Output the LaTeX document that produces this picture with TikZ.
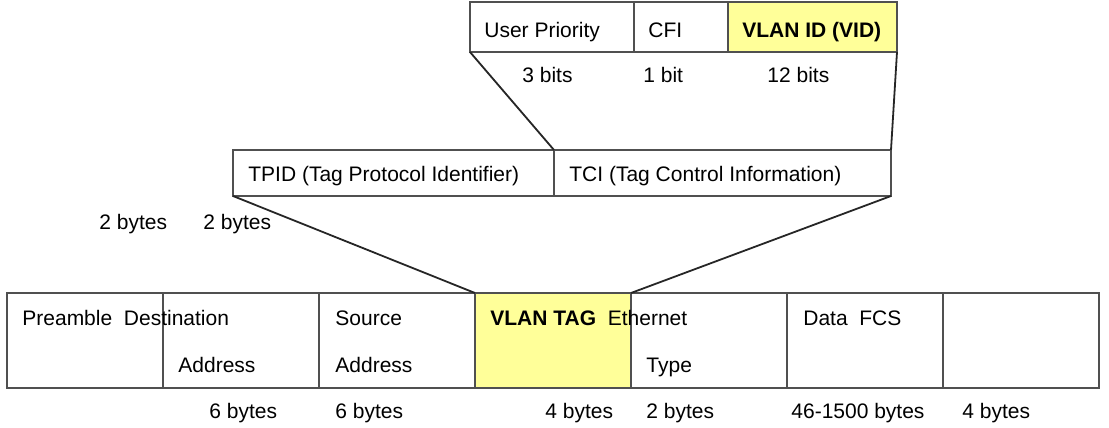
\documentclass[tikz,border=0pt]{standalone}
\usepackage{fontspec}
\setmainfont{Liberation Sans}
\usetikzlibrary{positioning}
\definecolor{tagYellow}{HTML}{FFFF99}
\definecolor{boxLine}{HTML}{505050}
\tikzset{
  field/.style={draw=boxLine, line width=0.6pt, inner sep=0pt, outer sep=0pt, anchor=north west},
  lbl/.style={inner sep=0pt, anchor=base west, font=\fontsize{10.5}{12}\selectfont},
  link/.style={draw=black!85, line width=0.9pt}
}

\begin{document}
\begin{tikzpicture}[x=0.5pt, y=-0.5pt]
  \useasboundingbox (0,0) rectangle (1109,428);

  % tag control information bits
  \node[field, minimum width=82pt, minimum height=25pt] (prio) at (470,2) {};
  \node[field, minimum width=47pt, minimum height=25pt, right=0pt of prio] (cfi) {};
  \node[field, fill=tagYellow, minimum width=84.5pt, minimum height=25pt, right=0pt of cfi] (vid) {};
  \node[lbl] (prioTxt) at (484,37) {User Priority};
  \node[lbl] (cfiTxt) at (648,37) {CFI};
  \node[lbl] (vidTxt) at (742,37) {\textbf{VLAN ID (VID)}};
  \node[lbl] (prioBits) at (522,83) {3 bits};
  \node[lbl] (cfiBits) at (643,83) {1 bit};
  \node[lbl] (vidBits) at (767,83) {12 bits};

  % the 4-byte tag
  \node[field, minimum width=160.5pt, minimum height=23pt] (tpid) at (233,150) {};
  \node[field, minimum width=168.5pt, minimum height=23pt, right=0pt of tpid] (tci) {};
  \node[lbl] (tpidTxt) at (248,181) {TPID (Tag Protocol Identifier)};
  \node[lbl] (tciTxt) at (569,181) {TCI (Tag Control Information)};
  \node[lbl] (tpidBytes) at (99,229) {2 bytes};
  \node[lbl] (tciBytes) at (203,229) {2 bytes};

  % ethernet frame
  \node[field, minimum width=78pt, minimum height=47.5pt] (preamble) at (7,293) {};
  \node[field, minimum width=78pt, minimum height=47.5pt, right=0pt of preamble] (dstaddr) {};
  \node[field, minimum width=78pt, minimum height=47.5pt, right=0pt of dstaddr] (srcaddr) {};
  \node[field, fill=tagYellow, minimum width=78pt, minimum height=47.5pt, right=0pt of srcaddr] (vlantag) {};
  \node[field, minimum width=78pt, minimum height=47.5pt, right=0pt of vlantag] (ethtype) {};
  \node[field, minimum width=78pt, minimum height=47.5pt, right=0pt of ethtype] (data) {};
  \node[field, minimum width=78pt, minimum height=47.5pt, right=0pt of data] (fcs) {};

  \node[lbl] (preTxt) at (22,325) {Preamble\ \ Destination};
  \node[lbl] (dstTxt) at (178,372) {Address};
  \node[lbl] (srcTxt) at (335,325) {Source};
  \node[lbl] (srcTxtB) at (335,372) {Address};
  \node[lbl] (tagTxt) at (490,325) {\textbf{VLAN TAG}\ \ Ethernet};
  \node[lbl] (typeTxt) at (646,372) {Type};
  \node[lbl] (dataTxt) at (803,325) {Data\ \ FCS};

  \node[lbl] (dstBytes) at (209,418) {6 bytes};
  \node[lbl] (srcBytes) at (335,418) {6 bytes};
  \node[lbl] (tagBytes) at (545,418) {4 bytes};
  \node[lbl] (typeBytes) at (646,418) {2 bytes};
  \node[lbl] (dataBytes) at (791,418) {46-1500 bytes};
  \node[lbl] (fcsBytes) at (962,418) {4 bytes};

  % zoom lines
  \draw[link] (prio.south west) -- (tci.north west);
  \draw[link] (vid.south east) -- (tci.north east);
  \draw[link] (tpid.south west) -- (vlantag.north west);
  \draw[link] (tci.south east) -- (vlantag.north east);
\end{tikzpicture}
\end{document}
